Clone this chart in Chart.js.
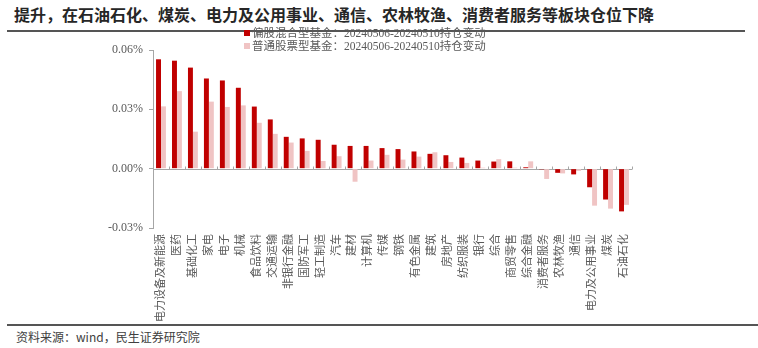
<!DOCTYPE html>
<html>
<head>
<meta charset="utf-8">
<script src="https://cdn.jsdelivr.net/npm/chart.js@4/dist/chart.umd.min.js"></script>
<style>
    html, body { margin: 0; padding: 0; background: #fff; }
    #page { position: relative; width: 758px; height: 348px; overflow: hidden; }
    #title {
        position: absolute; left: 14px; top: 5px;
        font: bold 16px 'Noto Sans CJK SC', sans-serif; line-height: 18px;
        color: #262626; white-space: nowrap;
    }
    .rule { position: absolute; background: #555; }
    #chartBox { position: absolute; left: 0; top: 32px; width: 758px; height: 292px; }
    #legend {
        position: absolute; left: 244px; top: 27px;
        font: 11.5px 'Liberation Serif', 'Noto Sans CJK SC', serif; line-height: 12.5px;
        color: #595959; white-space: nowrap;
    }
    #legend .box { display: inline-block; width: 6px; height: 6px; margin-right: 2px; vertical-align: 1px; }
    #source {
        position: absolute; left: 16px; top: 329px;
        font: 12px 'Noto Sans CJK SC', sans-serif; line-height: 16px; color: #404040;
    }
</style>
</head>
<body>
<div id="page">
    <div id="title">提升，在石油石化、煤炭、电力及公用事业、通信、农林牧渔、消费者服务等板块仓位下降</div>
    <div class="rule" style="left:7px; top:30px; width:738px; height:2px;"></div>
    <div id="chartBox"><canvas id="chart" width="758" height="292"></canvas></div>
    <div id="legend"></div>
    <div class="rule" style="left:7px; top:324px; width:751px; height:2px;"></div>
    <div id="source">资料来源：wind，民生证券研究院</div>
</div>
<script>
const industries = [
    '电力设备及新能源', '医药', '基础化工', '家电', '电子', '机械', '食品饮料', '交通运输',
    '非银行金融', '国防军工', '轻工制造', '汽车', '建材', '计算机', '传媒', '钢铁',
    '有色金属', '建筑', '房地产', '纺织服装', '银行', '综合', '商贸零售', '综合金融',
    '消费者服务', '农林牧渔', '通信', '电力及公用事业', '煤炭', '石油石化'
];

// 持仓变动，单位 %
const mixedFundChange = [
    0.0553, 0.0546, 0.0511, 0.0456, 0.0446, 0.0409, 0.0314, 0.0249,
    0.0161, 0.0153, 0.0146, 0.0121, 0.0115, 0.0115, 0.0104, 0.0099,
    0.0087, 0.0075, 0.0068, 0.0056, 0.0041, 0.0036, 0.0037, 0.0007,
    -0.0004, -0.0021, -0.0029, -0.0094, -0.0156, -0.0216
];
const stockFundChange = [
    0.0315, 0.0392, 0.0187, 0.0339, 0.0312, 0.0320, 0.0232, 0.0176,
    0.0132, 0.0090, 0.0039, 0.0063, -0.0066, 0.0041, 0.0070, 0.0046,
    0.0061, 0.0083, 0.0034, 0.0029, 0.0005, 0.0048, 0.0005, 0.0037,
    -0.0052, -0.0024, -0.0011, -0.0187, -0.0202, -0.0183
];

const yTicks = [-0.03, 0, 0.03, 0.06];
const seriesNames = ['偏股混合型基金：20240506-20240510持仓变动', '普通股票型基金：20240506-20240510持仓变动'];
const seriesColors = ['#C00000', '#F0C4C4'];

const AXIS_COLOR = '#a6a6a6';
const TEXT_COLOR = '#595959';

// zero baseline with small marks between categories
const zeroLinePlugin = {
    id: 'zeroLine',
    beforeDatasetsDraw(chart) {
        const { ctx, chartArea, scales: { x, y } } = chart;
        const y0 = Math.round(y.getPixelForValue(0)) + 0.5;
        ctx.save();
        ctx.strokeStyle = AXIS_COLOR;
        ctx.lineWidth = 1;
        ctx.beginPath();
        ctx.moveTo(chartArea.left, y0);
        ctx.lineTo(chartArea.right, y0);
        for (let i = 0; i <= industries.length; i++) {
            const px = Math.round(x.getPixelForValue(i - 0.5)) + 0.5;
            ctx.moveTo(px, y0);
            ctx.lineTo(px, y0 - 3);
        }
        ctx.stroke();
        ctx.restore();
    }
};

new Chart(document.getElementById('chart'), {
    type: 'bar',
    data: {
        labels: industries,
        datasets: [
            { label: seriesNames[0], data: mixedFundChange, backgroundColor: seriesColors[0] },
            { label: seriesNames[1], data: stockFundChange, backgroundColor: seriesColors[1] }
        ]
    },
    options: {
        responsive: false,
        devicePixelRatio: 1,
        animation: false,
        datasets: { bar: { categoryPercentage: 0.62, barPercentage: 1.0 } },
        layout: { padding: { left: 0, right: 126, top: 18, bottom: 0 } },
        plugins: { legend: { display: false }, tooltip: { enabled: false } },
        scales: {
            x: {
                afterFit: (scale) => { scale.height = 96; },
                grid: { display: false, drawTicks: false },
                border: { display: false },
                ticks: {
                    autoSkip: false,
                    maxRotation: 90,
                    minRotation: 90,
                    padding: 6,
                    color: TEXT_COLOR,
                    font: { family: "'Liberation Serif', 'Noto Sans CJK SC', serif", size: 11 }
                }
            },
            y: {
                min: yTicks[0],
                max: yTicks[yTicks.length - 1],
                afterFit: (scale) => { scale.width = 153; },
                afterBuildTicks: (scale) => { scale.ticks = yTicks.map((v) => ({ value: v })); },
                grid: { drawOnChartArea: false, tickLength: 4, color: AXIS_COLOR },
                border: { color: AXIS_COLOR },
                ticks: {
                    padding: 6,
                    color: TEXT_COLOR,
                    font: { family: "'Liberation Serif', serif", size: 12 },
                    callback: (value) => `${value.toFixed(2)}%`
                }
            }
        }
    },
    plugins: [zeroLinePlugin]
});

// two-row legend above the plot
const legendEl = document.getElementById('legend');
seriesNames.forEach((name, i) => {
    const row = document.createElement('div');
    const box = document.createElement('span');
    box.className = 'box';
    box.style.background = seriesColors[i];
    row.appendChild(box);
    row.appendChild(document.createTextNode(name));
    legendEl.appendChild(row);
});
</script>
</body>
</html>
